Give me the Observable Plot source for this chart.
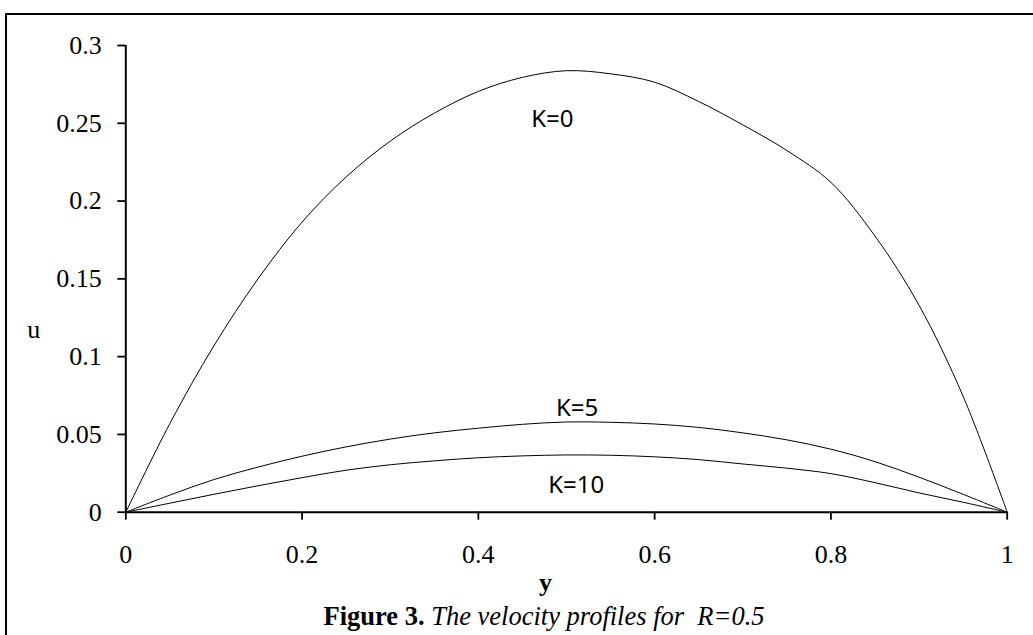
<!DOCTYPE html>
<html>
<head>
<meta charset="utf-8">
<script src="https://cdn.jsdelivr.net/npm/d3@7"></script>
<script src="https://cdn.jsdelivr.net/npm/@observablehq/plot@0.6"></script>
<style>
  html, body { margin: 0; padding: 0; background: #fff; overflow: hidden; width: 1033px; height: 635px; }
  #frame { position: absolute; left: 5px; top: 13px; width: 1100px; height: 700px; border: 2px solid #000; }
  #chart { position: absolute; left: 0; top: 0; }
  #caption { position: absolute; left: 0; top: 603px; width: 1088px; text-align: center;
             font-family: 'Liberation Serif', 'Times New Roman', serif; font-size: 26.5px; line-height: 1; color: #000; white-space: pre; }
</style>
</head>
<body>
<div id="frame"></div>
<div id="chart"></div>
<div id="caption"><b>Figure 3.</b> <i>The velocity profiles for  R=0.5</i></div>
<script>
// y position across channel (horizontal axis)
const yPos = [0, 0.05, 0.1, 0.15, 0.2, 0.25, 0.3, 0.35, 0.4, 0.45, 0.5, 0.55, 0.6, 0.65, 0.7, 0.75, 0.8, 0.85, 0.9, 0.95, 1];
// velocity u for each K
const uK0  = [0, 0.057, 0.107, 0.150, 0.1865, 0.2155, 0.2385, 0.2565, 0.2705, 0.2795, 0.2838, 0.2818, 0.2764, 0.2640, 0.2490, 0.2325, 0.2120, 0.1775, 0.133, 0.0745, 0];
const uK5  = [0, 0.011, 0.021, 0.029, 0.036, 0.042, 0.047, 0.051, 0.054, 0.0565, 0.058, 0.0578, 0.0567, 0.0545, 0.051, 0.0465, 0.0405, 0.0325, 0.0225, 0.0115, 0];
const uK10 = [0, 0.0058, 0.0115, 0.017, 0.0222, 0.027, 0.0305, 0.033, 0.035, 0.0362, 0.0368, 0.0366, 0.0356, 0.0338, 0.031, 0.0283, 0.0248, 0.0190, 0.0124, 0.0064, 0];
const seriesNames = ["K=0", "K=5", "K=10"];
const seriesValues = [uK0, uK5, uK10];
// curve label anchors (data coordinates)
const labelX = [0.484, 0.512, 0.511];
const labelY = [0.2524, 0.0665, 0.0174];
// ticks
const xTicks = [0, 0.2, 0.4, 0.6, 0.8, 1];
const yTicks = [0, 0.05, 0.1, 0.15, 0.2, 0.25, 0.3];

const rows = [];
seriesNames.forEach((k, s) => yPos.forEach((x, i) => rows.push({k, x, u: seriesValues[s][i]})));

const chart = Plot.plot({
  width: 1033,
  height: 600,
  marginLeft: 125.3,
  marginRight: 26.3,
  marginTop: 45,
  marginBottom: 88.3,
  style: {fontFamily: "'Liberation Serif', 'Times New Roman', serif", fontSize: "26px", color: "#000", background: "transparent", overflow: "visible"},
  x: {domain: [0, 1]},
  y: {domain: [0, 0.3]},
  marks: [
    Plot.axisX({ticks: xTicks, tickFormat: d => String(d), tickSize: 8, tickPadding: 24, label: null, strokeWidth: 1.8}),
    Plot.axisY({ticks: yTicks, tickFormat: d => String(d), tickSize: 8, tickPadding: 16, label: null, strokeWidth: 1.8}),
    Plot.ruleY([0], {stroke: "#000", strokeWidth: 2}),
    Plot.ruleX([0], {stroke: "#000", strokeWidth: 2}),
    Plot.line(rows, {x: "x", y: "u", z: "k", stroke: "#000", strokeWidth: 1, curve: "catmull-rom"}),
    Plot.text(seriesNames, {x: (d, i) => labelX[i], y: (d, i) => labelY[i], text: d => d, fontFamily: "'Noto Sans', sans-serif", fontSize: 24, fill: "#000"}),
    Plot.text(["u"], {frameAnchor: "left", text: d => d, textAnchor: "middle", dx: -92, dy: 51, fontSize: 26, fill: "#000"}),
    Plot.text(["y"], {frameAnchor: "bottom", text: d => d, textAnchor: "middle", dx: -21, dy: 79, fontSize: 26, fontWeight: "bold", fill: "#000"})
  ]
});
document.getElementById("chart").appendChild(chart);
</script>
</body>
</html>
